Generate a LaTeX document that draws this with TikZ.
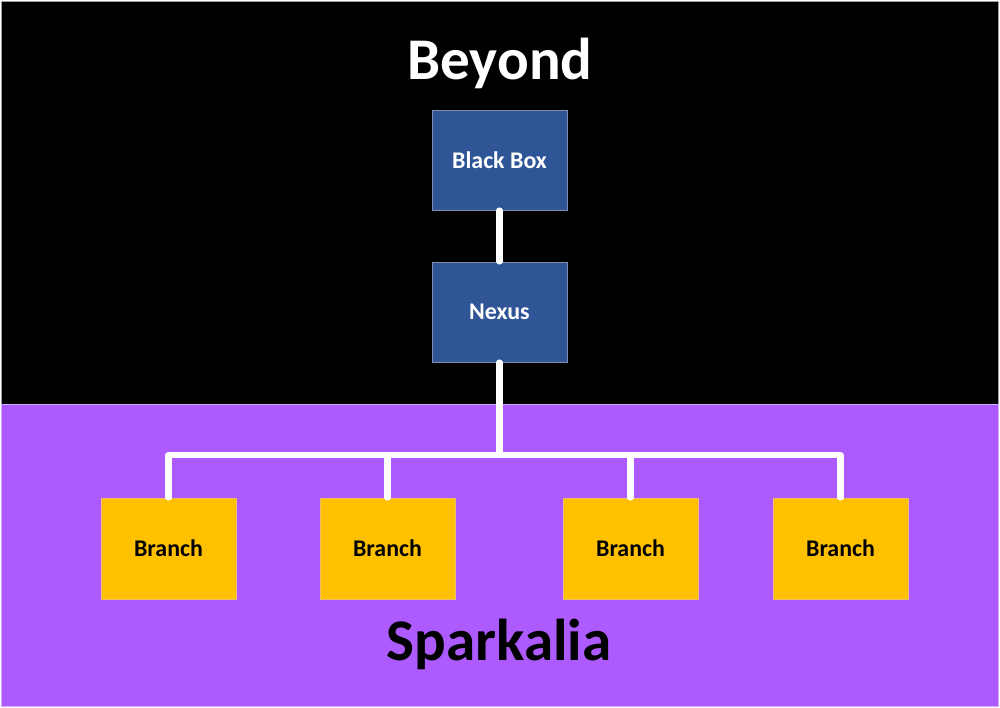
\documentclass[tikz,border=0pt]{standalone}
\usepackage{fontspec}
\setmainfont{Carlito}
\definecolor{boxblue}{HTML}{2F5597}
\definecolor{boxblueedge}{HTML}{7F8FB0}
\definecolor{gold}{HTML}{FFC000}
\definecolor{goldedge}{HTML}{E8C070}
\definecolor{spark}{HTML}{AD5AFF}
\definecolor{sparkedge}{HTML}{D0A8FF}
\definecolor{frame}{HTML}{A0A0A0}
\tikzset{
  upperbox/.style={draw=boxblueedge, line width=0.6pt, fill=boxblue, text=white,
    minimum width=3.375cm, minimum height=2.5cm, inner sep=0pt, font=\bfseries\fontsize{17}{20}\selectfont},
  branchbox/.style={draw=goldedge, line width=0.6pt, fill=gold, text=black,
    minimum width=3.375cm, minimum height=2.525cm, inner sep=0pt, font=\bfseries\fontsize{17}{20}\selectfont},
  link/.style={draw=white, line width=4.3pt, line cap=round, line join=round},
  title/.style={font=\bfseries\fontsize{42}{48}\selectfont, inner sep=0pt}
}
\begin{document}
\begin{tikzpicture}[x=0.025cm, y=-0.025cm]
\useasboundingbox (0,0) rectangle (1000,708);
% regions
\fill[white] (0,0) rectangle (1000,708);
\filldraw[fill=black, draw=frame, line width=0.6pt] (1,1) rectangle (998,404);
\filldraw[fill=spark, draw=sparkedge, line width=0.6pt] (1,404) rectangle (998,706);
% titles
\node[title, text=white] (beyond) at (500,63) {Beyond};
\node[title, text=black] (sparkalia) at (499,644) {Sparkalia};
% boxes
\node[upperbox] (bb) at (499.5,160) {Black Box};
\node[upperbox] (nx) at (499.5,312) {Nexus};
\node[branchbox] (b1) at (168.5,548.5) {Branch};
\node[branchbox] (b2) at (387.5,548.5) {Branch};
\node[branchbox] (b3) at (630.5,548.5) {Branch};
\node[branchbox] (b4) at (840.5,548.5) {Branch};
\coordinate (bus) at (499.5,455);
% connectors
\draw[link] (bb.south) -- (nx.north);
\draw[link] (nx.south) -- (bus);
\draw[link] (b1.north) -- (b1.north |- bus) -- (b4.north |- bus) -- (b4.north);
\draw[link] (b2.north) -- (b2.north |- bus);
\draw[link] (b3.north) -- (b3.north |- bus);
\end{tikzpicture}
\end{document}
